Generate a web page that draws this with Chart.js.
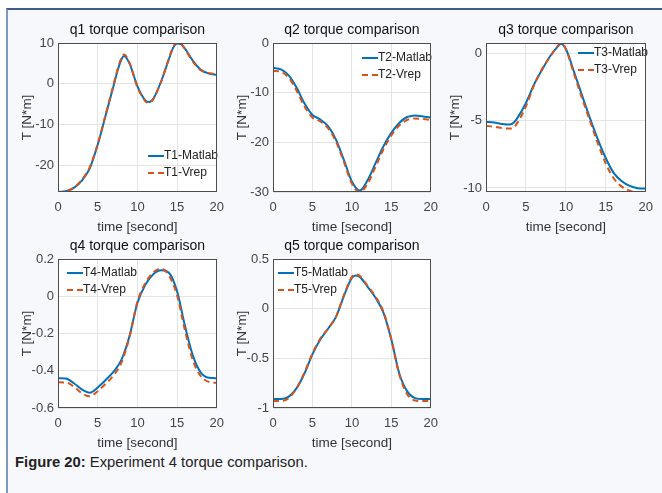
<!DOCTYPE html>
<html>
<head>
<meta charset="utf-8">
<script src="https://cdn.jsdelivr.net/npm/chart.js@4.4.1/dist/chart.umd.min.js"></script>
<style>
body{margin:0;background:#fff;width:662px;height:493px;overflow:hidden;position:relative;font-family:"Liberation Sans",Arial,sans-serif}
#frame{position:absolute;left:6px;top:8px;width:660px;height:490px;background:#f6f8fc;border-left:2px solid #7f98bd;border-top:2px solid #3f5d8c}
canvas{position:absolute}
#caption{position:absolute;left:15px;top:454px;font-size:14.8px;color:#222}
</style>
</head>
<body>
<div id="frame"></div>
<canvas id="c1" width="224" height="224" style="left:8px;top:13px"></canvas>
<canvas id="c2" width="223" height="224" style="left:223px;top:13px"></canvas>
<canvas id="c3" width="225" height="224" style="left:436px;top:13px"></canvas>
<canvas id="c4" width="224" height="224" style="left:8px;top:229px"></canvas>
<canvas id="c5" width="223" height="224" style="left:223px;top:229px"></canvas>
<div id="caption"><b>Figure 20:</b> Experiment 4 torque comparison.</div>
<script>
// values (time in seconds, torque in N*m)
const xTicks = [0, 5, 10, 15, 20];

const t1 = [0,1,2,3,4,5,6,7,7.5,8,8.3,9,10,11,11.5,12,13,14,14.5,15,15.5,16,17,18,19,20];
const T1Matlab = [-26.6,-26.4,-25.6,-23.8,-20.8,-15,-7.8,-0.5,3.2,6,6.8,5,-0.6,-4.1,-4.5,-3.7,0.6,6.2,8.8,9.9,9.7,8.6,5.6,3.4,2.5,2.2];
const T1Vrep = [-26.7,-26.5,-25.5,-23.6,-20.5,-14.8,-7.6,-0.2,3.5,6.4,7.2,5.2,-0.8,-4.3,-4.7,-3.8,0.6,6.4,9,10.1,9.8,8.5,5.4,3.3,2.6,2.4];
const y1Ticks = [-20, -10, 0, 10];

const t2 = [0,1,2,3,4,5,6,7,8,9,10,11,12,13,14,15,16,17,17.5,18,19,20];
const T2Matlab = [-5,-5.3,-6.5,-9,-12.2,-14.5,-15.4,-16.8,-19.5,-23.6,-27.9,-29.7,-27.6,-24.2,-20.8,-18.1,-16.1,-14.9,-14.7,-14.6,-14.8,-15];
const T2Vrep = [-5.6,-5.8,-7,-9.6,-12.8,-15,-15.8,-17.2,-19.9,-24,-28.3,-30,-28.3,-24.9,-21.4,-18.6,-16.6,-15.5,-15.3,-15.2,-15.3,-15.5];
const y2Ticks = [-30, -20, -10, 0];

const t3 = [0,1,2,3,3.5,4,5,6,7,8,9,9.4,10,11,12,13,14,15,16,17,18,19,20];
const T3Matlab = [-5.1,-5.15,-5.25,-5.3,-5.15,-4.75,-3.7,-2.35,-1.25,-0.25,0.5,0.7,0.3,-1.35,-3.1,-4.8,-6.4,-7.8,-8.9,-9.5,-9.85,-10.02,-10.05];
const T3Vrep = [-5.4,-5.45,-5.55,-5.6,-5.5,-5.1,-3.95,-2.4,-1.2,-0.3,0.55,0.78,0.3,-1.5,-3.3,-5,-6.7,-8.2,-9.3,-9.9,-10.2,-10.35,-10.3];
const y3Ticks = [-10, -5, 0];

const t4 = [0,1,2,3,4,5,6,7,8,9,10,11,12,13,14,15,16,17,18,19,20];
const T4Matlab = [-0.44,-0.442,-0.467,-0.5,-0.518,-0.49,-0.45,-0.405,-0.34,-0.215,-0.036,0.062,0.118,0.139,0.125,0.026,-0.16,-0.32,-0.41,-0.438,-0.44];
const T4Vrep = [-0.462,-0.463,-0.485,-0.52,-0.537,-0.51,-0.47,-0.425,-0.355,-0.22,-0.03,0.07,0.128,0.148,0.11,0.005,-0.185,-0.345,-0.43,-0.46,-0.465];
const y4Ticks = [-0.6, -0.4, -0.2, 0, 0.2];

const t5 = [0,1,2,3,4,5,6,7,8,9,10,10.5,11,12,13,14,15,16,17,18,19,20];
const T5Matlab = [-0.91,-0.91,-0.885,-0.8,-0.65,-0.46,-0.31,-0.2,-0.08,0.13,0.31,0.335,0.32,0.22,0.11,-0.04,-0.31,-0.65,-0.83,-0.9,-0.91,-0.91];
const T5Vrep = [-0.93,-0.93,-0.9,-0.8,-0.64,-0.45,-0.3,-0.2,-0.08,0.14,0.32,0.345,0.33,0.23,0.12,-0.03,-0.31,-0.66,-0.86,-0.925,-0.93,-0.93];
const y5Ticks = [-1, -0.5, 0, 0.5];

Chart.defaults.font.family = '"Liberation Sans", Arial, sans-serif';
Chart.defaults.color = '#444';

// white axes background + dark box around it, like matlab
const axesBox = {
  id: 'axesBox',
  beforeDraw(chart) {
    const a = chart.chartArea, ctx = chart.ctx;
    ctx.save();
    ctx.fillStyle = '#fff';
    ctx.fillRect(a.left, a.top, a.right - a.left, a.bottom - a.top);
    ctx.restore();
  },
  afterDraw(chart) {
    const a = chart.chartArea, ctx = chart.ctx;
    ctx.save();
    ctx.strokeStyle = '#4d4d4d';
    ctx.lineWidth = 1;
    ctx.strokeRect(Math.round(a.left) + 0.5, Math.round(a.top) + 0.5, Math.round(a.right - a.left) - 1, Math.round(a.bottom - a.top) - 1);
    ctx.restore();
  }
};

// legend drawn inside the axes (no box)
const inLegend = {
  id: 'inLegend',
  afterDatasetsDraw(chart, args, opts) {
    const a = chart.chartArea, ctx = chart.ctx;
    ctx.save();
    ctx.font = '12px "Liberation Sans", Arial, sans-serif';
    ctx.textBaseline = 'middle';
    chart.data.datasets.forEach((ds, i) => {
      const x = a.left + opts.x, y = a.top + opts.y + i * 17;
      ctx.strokeStyle = ds.borderColor;
      ctx.lineWidth = 2;
      ctx.setLineDash(ds.borderDash || []);
      ctx.beginPath();
      ctx.moveTo(x, y);
      ctx.lineTo(x + 16, y);
      ctx.stroke();
      ctx.setLineDash([]);
      ctx.fillStyle = '#222';
      ctx.fillText(ds.label, x + 16, y);
    });
    ctx.restore();
  }
};

function pts(time, vals) {
  return time.map((t, i) => ({x: t, y: vals[i]}));
}

// matlab style numbers: -1 not -1.0
const fmt = v => String(+v.toFixed(2));

function makeChart(id, title, time, matlab, vrep, names, yMin, yMax, yTicks, legPos) {
  return new Chart(document.getElementById(id), {
    type: 'line',
    data: {
      datasets: [
        {label: names[0], data: pts(time, matlab), borderColor: '#0072BD', borderWidth: 2, pointRadius: 0, cubicInterpolationMode: 'monotone', order: 1},
        {label: names[1], data: pts(time, vrep), borderColor: '#D95319', borderWidth: 2, borderDash: [6, 4], pointRadius: 0, cubicInterpolationMode: 'monotone', order: 0}
      ]
    },
    options: {
      responsive: false,
      animation: false,
      devicePixelRatio: 1,
      layout: {padding: {left: 0, top: 0, right: 12, bottom: 0}},
      plugins: {
        legend: {display: false},
        tooltip: {enabled: false},
        title: {display: true, fullSize: false, text: title, color: '#111', font: {size: 14, weight: 'normal'}, padding: {top: 9, bottom: 4.2}},
        inLegend: legPos
      },
      scales: {
        x: {
          type: 'linear', min: 0, max: 20,
          afterBuildTicks: s => { s.ticks = xTicks.map(v => ({value: v})); },
          afterFit: s => { s.height = 45; },
          grid: {color: '#e4e4e4', drawTicks: false},
          border: {display: false},
          ticks: {padding: 8, font: {size: 13}, color: '#444', callback: fmt},
          title: {display: true, text: 'time [second]', color: '#333', font: {size: 13.5}, padding: {top: 0, bottom: 2}}
        },
        y: {
          min: yMin, max: yMax,
          afterBuildTicks: s => { s.ticks = yTicks.map(v => ({value: v})); },
          afterFit: s => { s.width = 50; },
          grid: {color: '#e4e4e4', drawTicks: false},
          border: {display: false},
          ticks: {padding: 4, font: {size: 13}, color: '#444', callback: fmt},
          title: {display: true, text: 'T [N*m]', color: '#333', font: {size: 13.5}, padding: {top: 11, bottom: 0}}
        }
      }
    },
    plugins: [axesBox, inLegend]
  });
}

makeChart('c1', 'q1 torque comparison', t1, T1Matlab, T1Vrep, ['T1-Matlab', 'T1-Vrep'], -26.6, 10, y1Ticks, {x: 90, y: 113});
makeChart('c2', 'q2 torque comparison', t2, T2Matlab, T2Vrep, ['T2-Matlab', 'T2-Vrep'], -30, 0, y2Ticks, {x: 89, y: 15});
makeChart('c3', 'q3 torque comparison', t3, T3Matlab, T3Vrep, ['T3-Matlab', 'T3-Vrep'], -10.3, 0.75, y3Ticks, {x: 92, y: 10});
makeChart('c4', 'q4 torque comparison', t4, T4Matlab, T4Vrep, ['T4-Matlab', 'T4-Vrep'], -0.6, 0.2, y4Ticks, {x: 9, y: 14});
makeChart('c5', 'q5 torque comparison', t5, T5Matlab, T5Vrep, ['T5-Matlab', 'T5-Vrep'], -1, 0.5, y5Ticks, {x: 5, y: 14});
</script>
</body>
</html>
